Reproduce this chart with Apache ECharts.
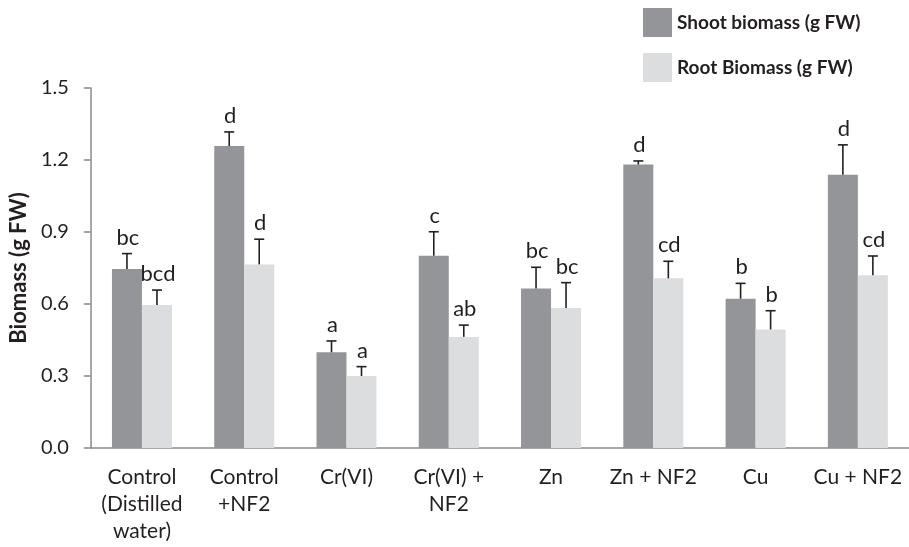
<!DOCTYPE html>
<html>
<head>
<meta charset="utf-8">
<script src="https://cdn.jsdelivr.net/npm/echarts@6/dist/echarts.min.js"></script>
<style>
  html, body { margin: 0; padding: 0; background: #fff; }
  #chart { width: 909px; height: 547px; }
</style>
</head>
<body>
<div id="chart"></div>
<script>
// treatments
const categories = ['Control\n(Distilled\nwater)', 'Control\n+NF2', 'Cr(VI)', 'Cr(VI) +\nNF2', 'Zn', 'Zn + NF2', 'Cu', 'Cu + NF2']
// means
const shoot = [0.746, 1.258, 0.399, 0.801, 0.665, 1.181, 0.622, 1.139]
const root = [0.596, 0.765, 0.300, 0.463, 0.583, 0.707, 0.494, 0.720]
// standard error (upper bar only)
const shootErr = [0.064, 0.059, 0.047, 0.100, 0.088, 0.015, 0.064, 0.124]
const rootErr = [0.062, 0.105, 0.039, 0.049, 0.106, 0.071, 0.078, 0.080]
// significance letters
const shootLetters = ['bc', 'd', 'a', 'c', 'bc', 'd', 'b', 'd']
const rootLetters = ['bcd', 'd', 'a', 'ab', 'bc', 'cd', 'b', 'cd']
const yTicks = [0, 0.3, 0.6, 0.9, 1.2, 1.5]

const FONT = 'Lato'
const TXT = '#231f20'
const BAR_W = 30

let chart = echarts.init(document.getElementById('chart'))

// error bar + letter drawn above each bar
const errSeries = (vals, errs, letters, side) => ({
  type: 'custom',
  z: 5,
  silent: true,
  data: vals.map((v, i) => [i, v, v + errs[i], letters[i]]),
  renderItem: (params, api) => {
    const base = api.coord([api.value(0), api.value(1)])
    const top = api.coord([api.value(0), api.value(2)])
    const x = base[0] + side * BAR_W / 2
    const style = { stroke: '#231f20', lineWidth: 1.6 }
    return {
      type: 'group',
      children: [
        { type: 'line', shape: { x1: x, y1: base[1], x2: x, y2: top[1] }, style },
        { type: 'line', shape: { x1: x - 5, y1: top[1], x2: x + 5, y2: top[1] }, style },
        {
          type: 'text',
          style: {
            x: x + 1, y: top[1] - 5,
            text: api.value(3),
            textAlign: 'center', textVerticalAlign: 'bottom',
            font: '22px ' + FONT, fill: TXT
          }
        }
      ]
    }
  }
})

chart.setOption({
  animation: false,
  grid: { left: 89, top: 88, width: 829, height: 360 },
  legend: {
    orient: 'vertical',
    left: 638, top: 3,
    itemWidth: 29, itemHeight: 29, itemGap: 16,
    icon: 'rect',
    textStyle: { fontFamily: FONT, fontWeight: 'bold', fontSize: 19, color: TXT, padding: [12, 0, 0, 0] },
    data: ['Shoot biomass (g FW)', 'Root Biomass (g FW)']
  },
  xAxis: {
    type: 'category',
    data: categories,
    axisLine: { lineStyle: { color: '#8a8a8a', width: 1.5 } },
    axisTick: { length: 8, lineStyle: { color: '#8a8a8a', width: 1.5 } },
    axisLabel: { fontFamily: FONT, fontSize: 21, color: TXT, lineHeight: 27, margin: 16, interval: 0 }
  },
  yAxis: {
    type: 'value',
    min: 0, max: 1.5, interval: 0.3,
    name: 'Biomass (g FW)',
    nameLocation: 'middle',
    nameGap: 58,
    nameTextStyle: { fontFamily: FONT, fontWeight: 'bold', fontSize: 22, color: TXT },
    axisLine: { show: true, lineStyle: { color: '#8a8a8a', width: 1.5 } },
    axisTick: { show: true, length: 7, lineStyle: { color: '#8a8a8a', width: 1.5 } },
    splitLine: { show: false },
    axisLabel: {
      fontFamily: FONT, fontSize: 20, color: TXT, margin: 22,
      formatter: v => yTicks.includes(+v.toFixed(1)) ? v.toFixed(1) : ''
    }
  },
  series: [
    {
      name: 'Shoot biomass (g FW)', type: 'bar', data: shoot,
      barWidth: BAR_W, barGap: '0%',
      itemStyle: { color: '#939598' }
    },
    {
      name: 'Root Biomass (g FW)', type: 'bar', data: root,
      barWidth: BAR_W, barGap: '0%',
      itemStyle: { color: '#dcdddf' }
    },
    errSeries(shoot, shootErr, shootLetters, -1),
    errSeries(root, rootErr, rootLetters, 1)
  ]
})
</script>
</body>
</html>
